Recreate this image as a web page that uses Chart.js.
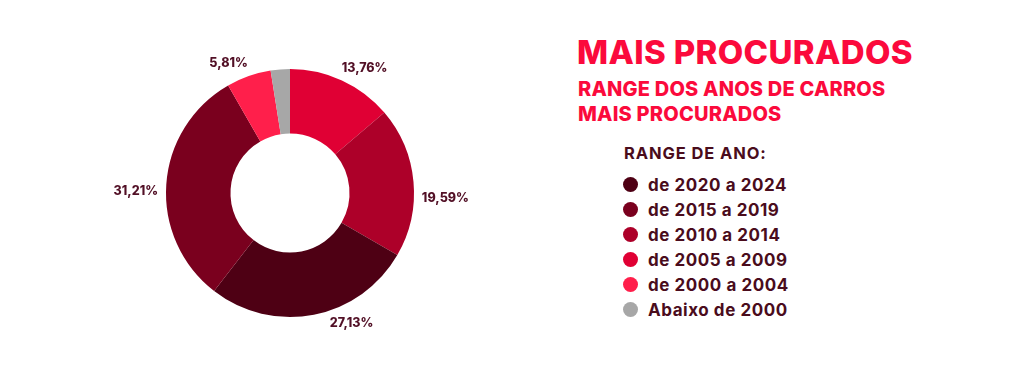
<!DOCTYPE html>
<html>
<head>
<meta charset="utf-8">
<script src="https://cdn.jsdelivr.net/npm/chart.js@4.4.1/dist/chart.umd.min.js"></script>
<style>
  html, body { margin: 0; padding: 0; background: #ffffff; }
  body { width: 1024px; height: 376px; position: relative; overflow: hidden; font-family: Inter, "Noto Sans", sans-serif; }
  #chartBox { position: absolute; left: 90px; top: 13px; width: 400px; height: 360px; }
  .title { position: absolute; left: 577px; top: 35px; font-size: 33px; font-weight: 800; color: #fb0a3c; line-height: 34px; letter-spacing: 0.35px; white-space: nowrap; }
  .subtitle { position: absolute; left: 578px; top: 77px; font-size: 20px; font-weight: 800; color: #fb0a3c; line-height: 25px; letter-spacing: 0.2px; white-space: nowrap; }
  .legendHead { position: absolute; left: 624px; top: 143px; font-size: 16.5px; font-weight: 700; color: #4a0c1c; line-height: 20px; letter-spacing: 0.9px; white-space: nowrap; }
  #legend { position: absolute; left: 623px; top: 172px; margin: 0; padding: 0; list-style: none; }
  #legend li { height: 25px; display: flex; align-items: center; font-size: 17px; font-weight: 700; color: #4a0c1c; letter-spacing: 0.55px; white-space: nowrap; }
  #legend .dot { width: 15px; height: 15px; border-radius: 50%; margin-right: 10px; flex: none; }
</style>
</head>
<body>
<div id="chartBox"><canvas id="donut" width="400" height="360"></canvas></div>
<div class="title">MAIS PROCURADOS</div>
<div class="subtitle">RANGE DOS ANOS DE CARROS<br>MAIS PROCURADOS</div>
<div class="legendHead">RANGE DE ANO:</div>
<ul id="legend"></ul>
<script>
// categories in legend order
const categories = ['de 2020 a 2024', 'de 2015 a 2019', 'de 2010 a 2014', 'de 2005 a 2009', 'de 2000 a 2004', 'Abaixo de 2000'];
// share of searches, %
const shares = [27.13, 31.21, 19.59, 13.76, 5.81, 2.50];
const colors = ['#4e0014', '#7a001e', '#ad0029', '#e00034', '#ff1f4b', '#a7a7a7'];
// slices go clockwise from the top in this order
const sliceOrder = [3, 2, 0, 1, 4, 5];
// small angle nudges (degrees) for the outside labels, in slice order
const labelNudge = [4, 7.5, -12.5, -3, -4.5, 0];

// build the html legend
const ul = document.getElementById('legend');
categories.forEach(function(name, i){
    const li = document.createElement('li');
    const dot = document.createElement('span');
    dot.className = 'dot';
    dot.style.background = colors[i];
    li.appendChild(dot);
    li.appendChild(document.createTextNode(name));
    ul.appendChild(li);
});

// percentage labels outside the ring
const outLabels = {
    id: 'outLabels',
    afterDatasetsDraw(chart){
        const ctx = chart.ctx;
        const meta = chart.getDatasetMeta(0);
        const ds = chart.data.datasets[0];
        ctx.save();
        ctx.font = '800 12.5px Inter, "Noto Sans", sans-serif';
        ctx.fillStyle = '#521026';
        ctx.textAlign = 'center';
        ctx.textBaseline = 'middle';
        meta.data.forEach(function(arc, i){
            const v = ds.data[i];
            if(v < 3) return;
            const p = arc.getProps(['x', 'y', 'startAngle', 'endAngle', 'outerRadius'], true);
            const a = (p.startAngle + p.endAngle) / 2 + labelNudge[i] * Math.PI / 180;
            const txt = v.toFixed(2).replace('.', ',') + '%';
            const w = ctx.measureText(txt).width;
            const r = p.outerRadius + 8;
            const cx = p.x + Math.cos(a) * r + Math.cos(a) * w / 2;
            const cy = p.y + Math.sin(a) * r + Math.sin(a) * 10;
            ctx.fillText(txt, cx, cy);
        });
        ctx.restore();
    }
};

new Chart(document.getElementById('donut'), {
    type: 'doughnut',
    data: {
        labels: sliceOrder.map(function(k){ return categories[k]; }),
        datasets: [{
            data: sliceOrder.map(function(k){ return shares[k]; }),
            backgroundColor: sliceOrder.map(function(k){ return colors[k]; }),
            borderWidth: 0,
            hoverOffset: 0
        }]
    },
    options: {
        responsive: false,
        animation: false,
        cutout: '48%',
        layout: { padding: { left: 76, right: 76, top: 56, bottom: 56 } },
        plugins: {
            legend: { display: false },
            tooltip: { enabled: false }
        }
    },
    plugins: [outLabels]
});
</script>
</body>
</html>
